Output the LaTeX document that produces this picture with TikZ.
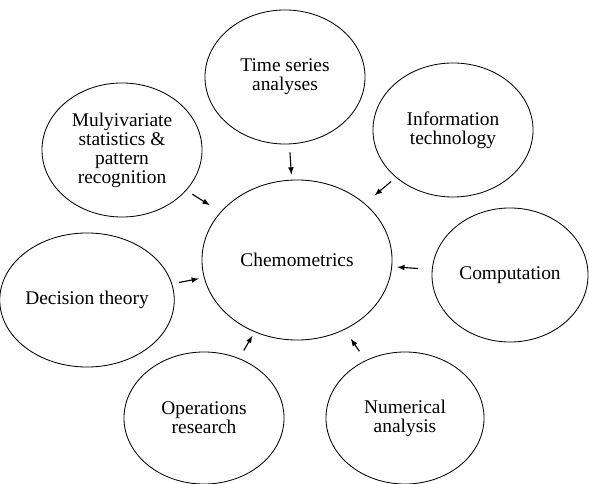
\documentclass[tikz,border=0pt]{standalone}
\usepackage{fontspec}
\setmainfont{Liberation Serif}
\usepackage{tikz}
\usetikzlibrary{shapes.geometric}

\begin{document}
\begin{tikzpicture}[x=0.025cm, y=-0.025cm, >=latex,
    field/.style={draw, ellipse, line width=0.6pt, inner sep=0pt, align=center,
        minimum width=4cm, minimum height=3.35cm,
        font=\fontsize{13.8}{13.5}\selectfont},
    feed/.style={->, line width=0.8pt}]
    \useasboundingbox (0,0) rectangle (589,484);

    % Central node
    \node[field, minimum width=4.75cm, minimum height=4cm] (chem) at (297,260) {Chemometrics};

    % Surrounding fields
    \node[field] (tsa) at (285,77) {Time series\\analyses};
    \node[field] (mvs) at (122,150) {Mulyivariate\\statistics \&\\pattern\\recognition};
    \node[field] (itech) at (453,130) {Information\\technology};
    \node[field, minimum width=3.9cm] (comp) at (510,275) {Computation};
    \node[field] (dect) at (87,300) {Decision theory};
    \node[field, minimum height=3.3cm] (opres) at (204,418) {Operations\\research};
    \node[field, minimum width=3.95cm, minimum height=3.3cm] (numan) at (405,418) {Numerical\\analysis};

    % Arrows into the centre
    \draw[feed, shorten <=5.7pt, shorten >=3.6pt] (tsa) -- (chem);
    \draw[feed, shorten <=5pt, shorten >=9pt] (mvs) -- (chem);
    \draw[feed, shorten <=4.5pt, shorten >=9pt] (itech) -- (chem);
    \draw[feed, shorten <=10pt, shorten >=3.6pt] (comp) -- (chem);
    \draw[feed, shorten <=5pt, shorten >=3.6pt] (dect) -- (chem);
    \draw[feed, shorten <=6.4pt, shorten >=3pt] (opres) -- (chem);
    \draw[feed, shorten <=7.8pt, shorten >=7.8pt] (numan) -- (chem);
\end{tikzpicture}
\end{document}
